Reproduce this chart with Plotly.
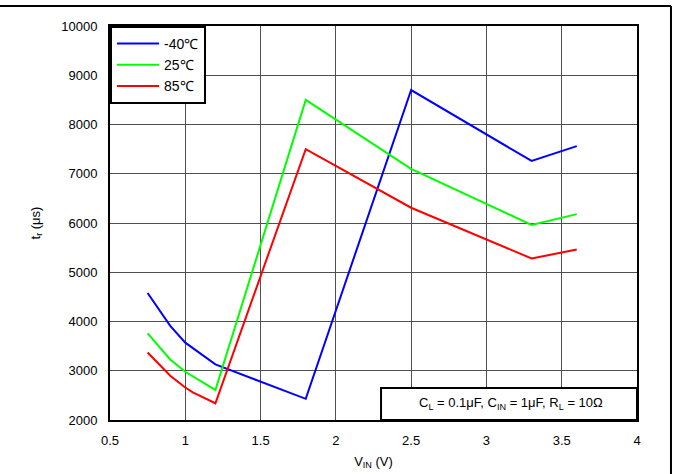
import plotly.graph_objects as go

vin_m40 = [0.75, 0.9, 1.0, 1.2, 1.8, 2.5, 3.3, 3.6]
tr_m40 = [4580, 3910, 3570, 3130, 2430, 8700, 7260, 7560]
vin_25 = [0.75, 0.9, 1.0, 1.2, 1.8, 2.5, 3.3, 3.6]
tr_25 = [3760, 3230, 2980, 2610, 8500, 7100, 5960, 6180]
vin_85 = [0.75, 0.9, 1.0, 1.05, 1.2, 1.8, 2.5, 3.3, 3.6]
tr_85 = [3370, 2900, 2660, 2560, 2340, 7500, 6310, 5280, 5460]

x_ticks = [0.5, 1, 1.5, 2, 2.5, 3, 3.5, 4]
x_tick_labels = ["0.5", "1", "1.5", "2", "2.5", "3", "3.5", "4"]
y_ticks = [2000, 3000, 4000, 5000, 6000, 7000, 8000, 9000, 10000]
y_tick_labels = ["2000", "3000", "4000", "5000", "6000", "7000", "8000", "9000", "10000"]

font = "Liberation Sans, Arial, sans-serif"

fig = go.Figure()
fig.add_trace(go.Scatter(x=vin_m40, y=tr_m40, mode="lines", name="-40℃",
                         line=dict(color="#0000ff", width=2)))
fig.add_trace(go.Scatter(x=vin_25, y=tr_25, mode="lines", name="25℃",
                         line=dict(color="#00ff00", width=2)))
fig.add_trace(go.Scatter(x=vin_85, y=tr_85, mode="lines", name="85℃",
                         line=dict(color="#ff0000", width=2)))

grid = "rgb(80,80,80)"
fig.update_layout(
    width=673, height=474,
    margin=dict(l=110, r=36, t=26, b=54, autoexpand=False),
    paper_bgcolor="white", plot_bgcolor="white",
    font=dict(family=font, size=13, color="black"),
    showlegend=True,
    legend=dict(x=0, y=1, xanchor="left", yanchor="top",
                bordercolor="black", borderwidth=2, bgcolor="white",
                font=dict(family=font, size=14), tracegroupgap=0,
                itemwidth=42),
    xaxis=dict(range=[0.5, 4], tickvals=x_ticks, ticktext=x_tick_labels,
               showgrid=True, gridcolor=grid, gridwidth=1,
               showline=True, linecolor="black", linewidth=2, mirror=True,
               ticks="", zeroline=False, ticklabelstandoff=7, automargin=False,
               title=dict(text="V<sub>IN</sub> (V)", font=dict(size=13), standoff=10)),
    yaxis=dict(range=[2000, 10000], tickvals=y_ticks, ticktext=y_tick_labels,
               showgrid=True, gridcolor=grid, gridwidth=1,
               showline=True, linecolor="black", linewidth=2, mirror=True,
               ticks="", zeroline=False, ticklabelstandoff=8, automargin=False,
               title=dict(text="t<sub>r</sub> (μs)", font=dict(size=13), standoff=18)),
)

# condition box
fig.add_shape(type="rect", xref="x", yref="y", x0=2.30, x1=4, y0=2000, y1=2650,
              line=dict(color="black", width=2), fillcolor="white", layer="above")
fig.add_annotation(xref="x", yref="y", x=3.16, y=2330,
                   text="C<sub>L</sub> = 0.1μF, C<sub>IN</sub> = 1μF, R<sub>L</sub> = 10Ω",
                   showarrow=False, font=dict(family=font, size=13, color="black"))

# outer frame lines (top and right)
fig.add_shape(type="line", xref="paper", yref="paper", x0=-0.21, x1=1.0645,
              y0=1.0508, y1=1.0508, line=dict(color="black", width=2))
fig.add_shape(type="line", xref="paper", yref="paper", x0=1.0645, x1=1.0645,
              y0=1.0508, y1=-0.14, line=dict(color="black", width=2))

fig.write_html("out.html", config={"displayModeBar": False},
               post_script="document.body.style.margin='0';document.body.style.padding='0';")
